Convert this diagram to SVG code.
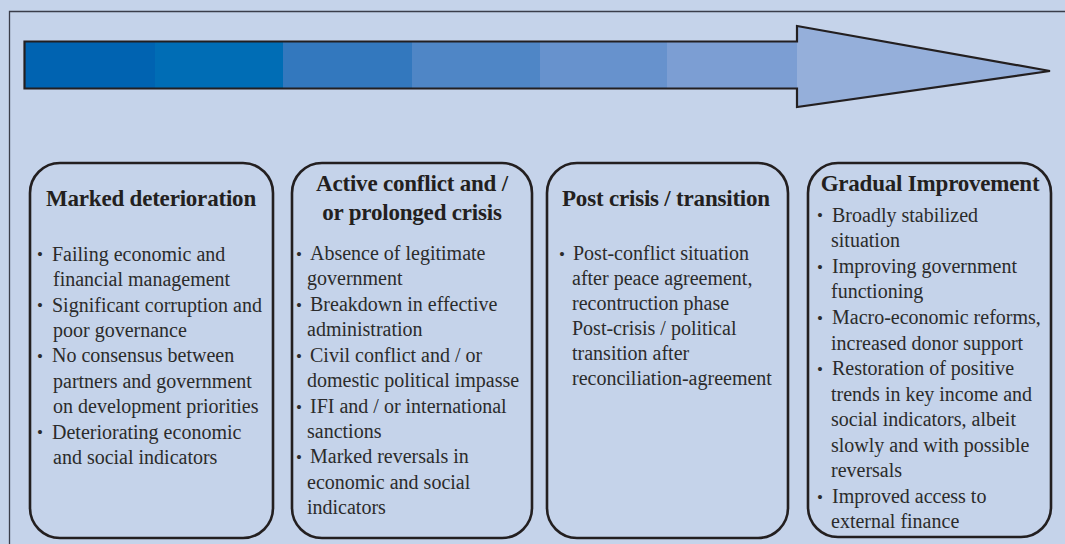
<svg xmlns="http://www.w3.org/2000/svg" width="1065" height="544" viewBox="0 0 1065 544">
  <style>
    .frame { fill: none; stroke: #3a3d4a; stroke-width: 1.3; }
    .outline { fill: none; stroke: #231f20; stroke-width: 2.2; stroke-linejoin: miter; }
    .box { fill: #c5d3ea; stroke: #231f20; stroke-width: 2.6; }
    text { font-family: 'Liberation Serif', 'Times New Roman', Times, 'DejaVu Serif', serif; }
    .title { font-weight: bold; font-size: 23px; fill: #231f20; text-anchor: middle; letter-spacing: -0.2px; }
    .body { font-size: 20px; fill: #2b2b2b; }
    .dot { font-size: 17px; }
  </style>

  <!-- background and page frame -->
  <rect x="0" y="0" width="1065" height="544" fill="#c5d3ea"/>
  <path class="frame" d="M9.5,560 V11.5 H1080"/>

  <!-- progression arrow -->
  <g id="progress-arrow">
    <rect x="24.5" y="41.5" width="131" height="47" fill="#0063b1"/>
    <rect x="155" y="41.5" width="128" height="47" fill="#006db5"/>
    <rect x="283" y="41.5" width="129" height="47" fill="#3378be"/>
    <rect x="412" y="41.5" width="128" height="47" fill="#4f86c6"/>
    <rect x="540" y="41.5" width="127" height="47" fill="#6792cd"/>
    <rect x="667" y="41.5" width="130" height="47" fill="#7c9ed3"/>
    <polygon points="797,26 1050,71 797,107" fill="#95afda"/>
    <path class="outline" d="M24.5,41.5 H797 V26 L1050,71 L797,107 V88.5 H24.5 Z"/>
  </g>

  <!-- stage 1 -->
  <g id="stage-marked-deterioration">
    <rect class="box" x="30" y="163" width="243" height="375" rx="30" ry="30"/>
    <text class="title" x="151" y="206">Marked deterioration</text>
    <text class="body"><tspan class="dot" x="37" y="260">•</tspan><tspan x="52" y="260.7">Failing economic and</tspan></text>
    <text class="body" x="53" y="286.1">financial management</text>
    <text class="body"><tspan class="dot" x="37" y="311">•</tspan><tspan x="52" y="311.5">Significant corruption and</tspan></text>
    <text class="body" x="53" y="336.9">poor governance</text>
    <text class="body"><tspan class="dot" x="37" y="362">•</tspan><tspan x="52" y="362.3">No consensus between</tspan></text>
    <text class="body" x="53" y="387.7">partners and government</text>
    <text class="body" x="53" y="413.1">on development priorities</text>
    <text class="body"><tspan class="dot" x="37" y="438">•</tspan><tspan x="52" y="438.5">Deteriorating economic</tspan></text>
    <text class="body" x="53" y="463.9">and social indicators</text>
  </g>

  <!-- stage 2 -->
  <g id="stage-active-conflict">
    <rect class="box" x="292" y="163" width="240" height="375" rx="30" ry="30"/>
    <text class="title" x="412" y="191">Active conflict and /</text>
    <text class="title" x="412" y="219.5">or prolonged crisis</text>
    <text class="body"><tspan class="dot" x="296" y="259.5">•</tspan><tspan x="310" y="260">Absence of legitimate</tspan></text>
    <text class="body" x="307" y="285.4">government</text>
    <text class="body"><tspan class="dot" x="296" y="310.5">•</tspan><tspan x="310" y="310.8">Breakdown in effective</tspan></text>
    <text class="body" x="307" y="336.2">administration</text>
    <text class="body"><tspan class="dot" x="296" y="361.5">•</tspan><tspan x="310" y="361.8">Civil conflict and / or</tspan></text>
    <text class="body" x="307" y="387.2">domestic political impasse</text>
    <text class="body"><tspan class="dot" x="296" y="412.5">•</tspan><tspan x="310" y="412.6">IFI and / or international</tspan></text>
    <text class="body" x="307" y="438">sanctions</text>
    <text class="body"><tspan class="dot" x="296" y="463">•</tspan><tspan x="310" y="463.4">Marked reversals in</tspan></text>
    <text class="body" x="307" y="488.8">economic and social</text>
    <text class="body" x="307" y="514.2">indicators</text>
  </g>

  <!-- stage 3 -->
  <g id="stage-post-crisis">
    <rect class="box" x="547" y="163" width="241" height="375" rx="30" ry="30"/>
    <text class="title" x="666" y="206">Post crisis / transition</text>
    <text class="body"><tspan class="dot" x="559" y="259.5">•</tspan><tspan x="573" y="260">Post-conflict situation</tspan></text>
    <text class="body" x="572" y="285">after peace agreement,</text>
    <text class="body" x="572" y="310">recontruction phase</text>
    <text class="body" x="572" y="335">Post-crisis / political</text>
    <text class="body" x="572" y="360">transition after</text>
    <text class="body" x="572" y="385">reconciliation-agreement</text>
  </g>

  <!-- stage 4 -->
  <g id="stage-gradual-improvement">
    <rect class="box" x="808" y="163" width="243" height="374" rx="30" ry="30"/>
    <text class="title" x="930" y="191">Gradual Improvement</text>
    <text class="body"><tspan class="dot" x="817" y="221">•</tspan><tspan x="832" y="221.7">Broadly stabilized</tspan></text>
    <text class="body" x="831" y="247.3">situation</text>
    <text class="body"><tspan class="dot" x="817" y="272.5">•</tspan><tspan x="832" y="272.8">Improving government</tspan></text>
    <text class="body" x="831" y="298.4">functioning</text>
    <text class="body"><tspan class="dot" x="817" y="323.5">•</tspan><tspan x="832" y="323.9">Macro-economic reforms,</tspan></text>
    <text class="body" x="831" y="349.5">increased donor support</text>
    <text class="body"><tspan class="dot" x="817" y="374.5">•</tspan><tspan x="832" y="375">Restoration of positive</tspan></text>
    <text class="body" x="831" y="400.6">trends in key income and</text>
    <text class="body" x="831" y="426.1">social indicators, albeit</text>
    <text class="body" x="831" y="451.7">slowly and with possible</text>
    <text class="body" x="831" y="477.2">reversals</text>
    <text class="body"><tspan class="dot" x="817" y="502.5">•</tspan><tspan x="832" y="502.8">Improved access to</tspan></text>
    <text class="body" x="831" y="528.3">external finance</text>
  </g>
</svg>
